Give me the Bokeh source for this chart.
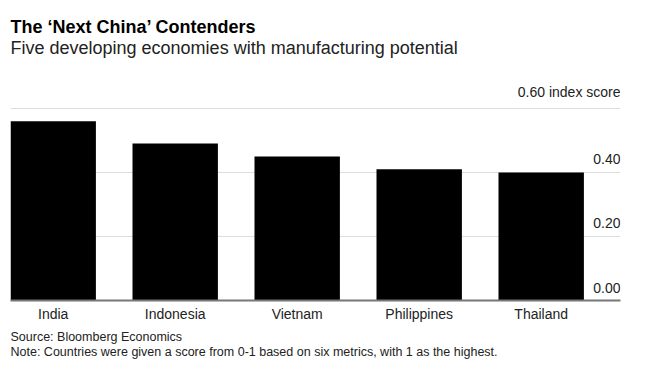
from bokeh.plotting import figure
from bokeh.models import Range1d, FixedTicker, Title, ColumnDataSource
from bokeh.core.properties import value
from bokeh.embed import file_html
from bokeh.resources import INLINE

countries = ["India", "Indonesia", "Vietnam", "Philippines", "Thailand"]
scores = [0.56, 0.49, 0.45, 0.41, 0.40]
y_ticks = [0.0, 0.2, 0.4, 0.6]
y_tick_labels = ["0.00", "0.20", "0.40", "0.60 index score"]

title = "The \u2018Next China\u2019 Contenders"
subtitle = "Five developing economies with manufacturing potential"
source_txt = "Source: Bloomberg Economics"
note_txt = "Note: Countries were given a score from 0-1 based on six metrics, with 1 as the highest."

FONT = "Liberation Sans"
idx = list(range(len(countries)))
x_start, x_end = -0.35, len(countries) - 0.35

p = figure(width=648, height=373, output_backend="svg", toolbar_location=None,
           x_range=Range1d(x_start, x_end), y_range=Range1d(0, 0.759),
           title=None, min_border_left=10, min_border_right=28,
           min_border_top=57, min_border_bottom=73)
p.outline_line_color = None
p.background_fill_color = "white"
p.border_fill_color = "white"

src = ColumnDataSource(dict(x=idx, top=scores, name=countries))
p.vbar(x="x", top="top", width=0.7, bottom=0, source=src,
       fill_color="black", line_color=None)

# y grid
p.yaxis.visible = False
p.ygrid.ticker = FixedTicker(ticks=y_ticks[1:])
p.ygrid.grid_line_color = "#dddddd"
p.ygrid.grid_line_width = 1
p.xgrid.grid_line_color = None

# right-hand tick labels drawn above gridlines
p.text(x=[x_end] * len(y_ticks), y=y_ticks, text=y_tick_labels,
       text_align="right", text_baseline="bottom", y_offset=-8,
       text_font=value(FONT), text_font_size="14px", text_color="#222222")

# x axis
xa = p.xaxis[0]
xa.ticker = FixedTicker(ticks=idx)
xa.major_label_overrides = {i: c for i, c in zip(idx, countries)}
xa.major_tick_line_color = None
xa.minor_tick_line_color = None
xa.axis_line_color = "#777777"
xa.axis_line_width = 2
xa.major_label_text_font = FONT
xa.major_label_text_font_size = "14px"
xa.major_label_text_color = "#222222"
xa.major_label_standoff = -1

# titles above (first added sits closest to frame)
p.add_layout(Title(text=subtitle, text_font=FONT, text_font_size="18px",
                   text_font_style="normal", text_color="#222222",
                   align="left", offset=0, standoff=0), "above")
p.add_layout(Title(text=title, text_font=FONT, text_font_size="18px",
                   text_font_style="bold", text_color="#000000",
                   align="left", offset=0, standoff=-2), "above")

# notes below (two lines in one title)
p.add_layout(Title(text=source_txt + "\n" + note_txt, text_font=FONT,
                   text_font_size="12.5px", text_line_height=1.1,
                   text_font_style="normal", text_color="#222222",
                   align="left", offset=0, standoff=8), "below")

open("out.html", "w").write(file_html(p, INLINE))
